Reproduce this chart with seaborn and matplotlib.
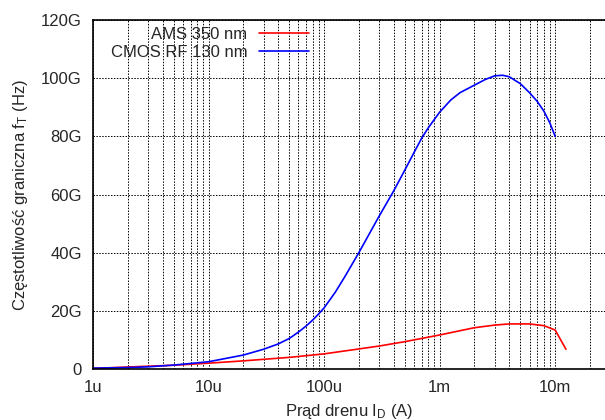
import numpy as np
import pandas as pd
import matplotlib
matplotlib.use("Agg")
import matplotlib.pyplot as plt
import seaborn as sns
from matplotlib.ticker import FixedLocator, FuncFormatter, LogLocator, NullFormatter

# Data
cmos_id = [1e-6, 2e-6, 3e-6, 5e-6, 10e-6, 20e-6, 30e-6, 40e-6, 50e-6, 60e-6, 70e-6,
           80e-6, 90e-6, 100e-6, 125e-6, 150e-6, 200e-6, 300e-6, 400e-6, 500e-6, 600e-6,
           700e-6, 800e-6, 900e-6, 1e-3, 1.25e-3, 1.5e-3, 2e-3, 2.5e-3, 3e-3, 3.5e-3,
           4e-3, 5e-3, 6e-3, 7e-3, 8e-3, 9e-3, 10e-3]
cmos_ft = [0.3, 0.5, 0.75, 1.35, 2.5, 4.8, 6.8, 8.6, 10.5, 12.7, 14.8,
           16.9, 19.0, 21.0, 26.4, 31.5, 40.0, 52.6, 61.2, 68.4, 74.4,
           79.4, 83.0, 85.8, 88.3, 92.5, 95.0, 97.6, 99.6, 100.8, 101.0,
           100.5, 98.1, 95.0, 92.0, 88.6, 84.6, 80.0]
ams_id = [1e-6, 2e-6, 5e-6, 10e-6, 20e-6, 50e-6, 100e-6, 200e-6, 300e-6, 500e-6,
          1e-3, 2e-3, 3e-3, 4e-3, 6e-3, 8e-3, 10e-3, 12.4e-3]
ams_ft = [0.2, 0.7, 1.3, 2.0, 2.8, 4.0, 5.2, 6.9, 7.9, 9.4,
          11.7, 14.2, 15.1, 15.5, 15.5, 14.9, 13.4, 6.8]

series_names = ["AMS 350 nm", "CMOS RF 130 nm"]
x_ticks = [1e-6, 1e-5, 1e-4, 1e-3, 1e-2]
x_labels = ["1u", "10u", "100u", "1m", "10m"]
y_ticks = [0, 20, 40, 60, 80, 100, 120]
y_labels = ["0", "20G", "40G", "60G", "80G", "100G", "120G"]

df = pd.concat([
    pd.DataFrame({"Id": ams_id, "ft": ams_ft, "series": series_names[0]}),
    pd.DataFrame({"Id": cmos_id, "ft": cmos_ft, "series": series_names[1]}),
])

sns.set_theme(style="white")
plt.rcParams["font.family"] = ["Liberation Sans", "DejaVu Sans"]
plt.rcParams["mathtext.fontset"] = "custom"
plt.rcParams["mathtext.rm"] = "Liberation Sans"
plt.rcParams["mathtext.it"] = "Liberation Sans"

fig = plt.figure(figsize=(6.05, 4.2), dpi=100)
ax = fig.add_axes([0.1537, 0.1214, 0.8463, 0.8310])

sns.lineplot(data=df, x="Id", y="ft", hue="series", palette=["#ff0000", "#0000ff"],
             ax=ax, linewidth=1.2, sort=False, estimator=None, legend=True)

ax.set_xscale("log")
ax.set_xlim(1e-6, 2.7e-2)
ax.set_ylim(0, 120)

ax.xaxis.set_major_locator(FixedLocator(x_ticks))
ax.xaxis.set_major_formatter(FuncFormatter(lambda v, p: dict(zip(x_ticks, x_labels)).get(v, "")))
ax.xaxis.set_minor_locator(LogLocator(base=10, subs=np.arange(2, 10)))
ax.xaxis.set_minor_formatter(NullFormatter())
ax.set_yticks(y_ticks)
ax.set_yticklabels(y_labels)

ax.grid(True, which="major", axis="both", color="black", linestyle=(0, (1.5, 1.5)), linewidth=0.7)
ax.grid(True, which="minor", axis="x", color="black", linestyle=(0, (1.5, 1.5)), linewidth=0.7)
ax.set_axisbelow(True)

ax.tick_params(axis="both", which="both", direction="in", labelsize=12, color="black")
ax.tick_params(axis="both", which="major", length=6, pad=8)
ax.tick_params(axis="x", which="minor", length=3)

for s in ["left", "bottom", "top"]:
    ax.spines[s].set_color("black")
    ax.spines[s].set_linewidth(1.2)
ax.spines["right"].set_visible(False)

ax.set_xlabel("Prąd drenu I$_\\mathregular{D}$ (A)", fontsize=12, labelpad=5)
ax.set_ylabel("Częstotliwość graniczna f$_\\mathregular{T}$ (Hz)", fontsize=12, labelpad=8)

leg = ax.legend(loc="upper left", bbox_to_anchor=(0.015, 1.008), frameon=False, fontsize=12,
                markerfirst=False, handlelength=3.0, handletextpad=0.7,
                labelspacing=0.15, borderaxespad=0.2)
for t in leg.get_texts():
    t.set_ha("right")
leg._legend_box.align = "right"

fig.savefig("out.png", dpi=100)
